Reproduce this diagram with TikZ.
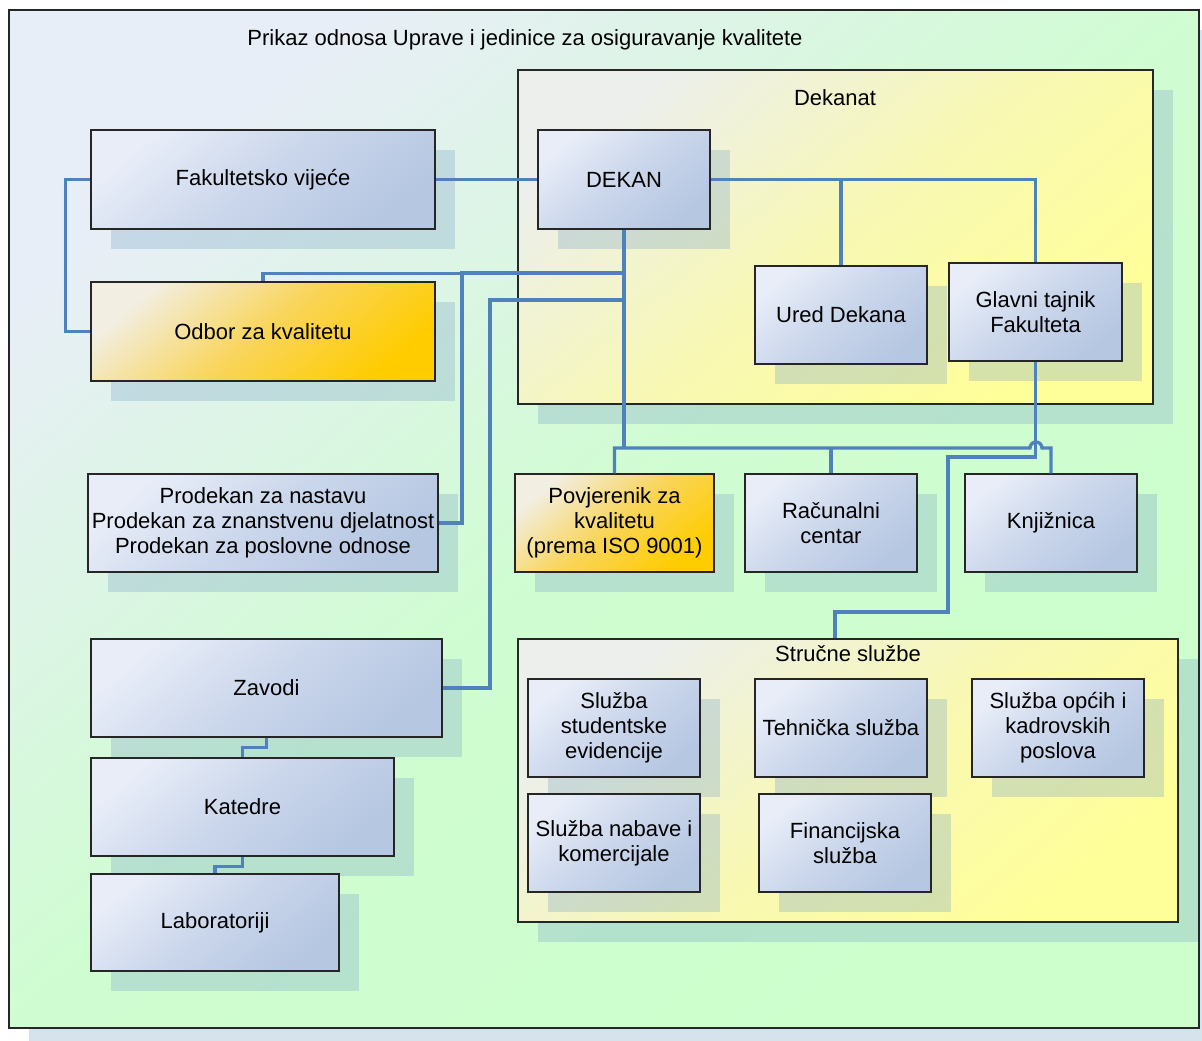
\documentclass[tikz,border=0pt]{standalone}
\usepackage{fontspec}
\setmainfont{Liberation Sans}
\definecolor{bgA}{HTML}{E8EEF7}
\definecolor{bgB}{HTML}{CCFFCC}
\definecolor{blA}{HTML}{E8EDF8}
\definecolor{blM}{HTML}{CAD6EB}
\definecolor{blB}{HTML}{B6C7E2}
\definecolor{orA}{HTML}{F2EEE2}
\definecolor{orM}{HTML}{F9D55A}
\definecolor{orB}{HTML}{FFCC00}
\definecolor{yeA}{HTML}{ECEFEC}
\definecolor{yeM}{HTML}{F8F8B4}
\definecolor{yeB}{HTML}{FFFF99}
\definecolor{shc}{HTML}{7FA8C8}
\definecolor{conc}{HTML}{4F81BD}
\tikzset{
  base/.style={draw=black!85, line width=1.3pt, inner sep=2pt, align=center,
    font=\fontsize{22}{25}\selectfont, text=black},
  bluebox/.style={base, top color=blA, bottom color=blB, middle color=blM, shading angle=40},
  orangebox/.style={base, top color=orA, bottom color=orB, middle color=orM, shading angle=40},
  yellowbox/.style={base, line width=1.6pt, top color=yeA, bottom color=yeB, middle color=yeM, shading angle=40},
  outerbox/.style={draw=black!85, line width=1.8pt, top color=bgA, bottom color=bgB, middle color=bgB!88!bgA, shading angle=40},
  shadowfill/.style={fill=shc, fill opacity=0.32},
  lbl/.style={font=\fontsize{22}{25}\selectfont, text=black, inner sep=0pt},
  conn/.style={draw=conc, line width=3.3pt}
}
\newcommand\mkbox[7]{%
  \fill[shadowfill] (#3+20,#4+20) rectangle (#5+20,#6+20);
  \node[#2, minimum width={(#5-#3)*1pt}, minimum height={(#6-#4)*1pt}] (#1) at ({(#3+#5)/2},{(#4+#6)/2}) {#7};}
\begin{document}
\begin{tikzpicture}[x=1pt,y=-1pt]
\useasboundingbox (0,0) rectangle (1202,1041);
% outer frame
\fill[shadowfill] (29,30) rectangle (1202,1041);
\node[outerbox, minimum width=1190pt, minimum height=1018pt] (frame) at (604,519) {};
\node[lbl] (title) at (525,40) {Prikaz odnosa Uprave i jedinice za osiguravanje kvalitete};
% containers
\mkbox{dk}{yellowbox}{518}{70}{1153}{404}{}
\node[lbl] (dkl) at (835,98) {Dekanat};
\mkbox{ss}{yellowbox}{518}{639}{1178}{922}{}
\node[lbl] (ssl) at (848,654) {Stručne službe};
% boxes
\mkbox{fv}{bluebox}{91}{130}{435}{229}{Fakultetsko vijeće}
\mkbox{dek}{bluebox}{538}{130}{710}{229}{DEKAN}
\mkbox{odb}{orangebox}{91}{282}{435}{381}{Odbor za kvalitetu}
\mkbox{ud}{bluebox}{755}{266}{927}{364}{Ured Dekana}
\mkbox{gt}{bluebox}{949}{263}{1122}{361}{Glavni tajnik\\Fakulteta}
\mkbox{prod}{bluebox}{88}{474}{438}{572}{Prodekan za nastavu\\Prodekan za znanstvenu djelatnost\\Prodekan za poslovne odnose}
\mkbox{pov}{orangebox}{515}{474}{714}{572}{Povjerenik za\\kvalitetu\\(prema ISO 9001)}
\mkbox{rc}{bluebox}{745}{474}{917}{572}{Računalni\\centar}
\mkbox{knj}{bluebox}{965}{474}{1137}{572}{Knjižnica}
\mkbox{sse}{bluebox}{528}{679}{700}{777}{Služba\\studentske\\evidencije}
\mkbox{ts}{bluebox}{755}{679}{927}{777}{Tehnička služba}
\mkbox{sok}{bluebox}{972}{679}{1144}{777}{Služba općih i\\kadrovskih\\poslova}
\mkbox{snk}{bluebox}{528}{794}{700}{892}{Služba nabave i\\komercijale}
\mkbox{fs}{bluebox}{759}{794}{931}{892}{Financijska\\služba}
\mkbox{zav}{bluebox}{91}{639}{442}{737}{Zavodi}
\mkbox{kat}{bluebox}{91}{758}{394}{856}{Katedre}
\mkbox{lab}{bluebox}{91}{874}{339}{971}{Laboratoriji}
% junction coordinates
\coordinate (j1) at (462,273);
\coordinate (j2) at (490,300);
\coordinate (bus) at (624,448);
\coordinate (hopA) at (1030,448);
\coordinate (k1) at (948,457);
\coordinate (k2) at (948,612);
% connectors
\draw[conn] (fv.east) -- (dek.west);
\draw[conn] (fv.west) -- ++(-25,0) |- (odb.west);
\draw[conn] (dek.south) -- ++(0,44) -| (odb.north);
\draw[conn] (dek.south) |- (j1) |- (prod.east);
\draw[conn] (dek.south) |- (j2) |- (zav.east);
\draw[conn] (dek.south) -- (bus);
\draw[conn] (pov.north) |- (bus) -- (hopA) arc[start angle=180, end angle=360, radius=6] -| (knj.north);
\draw[conn] (rc.north) -- (rc.north |- bus);
\draw[conn] (dek.east) -| (ud.north);
\draw[conn] (dek.east) -| (gt.north);
\draw[conn] (gt.south) |- (k1) -- (k2) -| ([xshift=-13pt]ss.north);
\draw[conn] (zav.south) -- ++(0,10) -| (kat.north);
\draw[conn] (kat.south) -- ++(0,10) -| (lab.north);
\end{tikzpicture}
\end{document}
